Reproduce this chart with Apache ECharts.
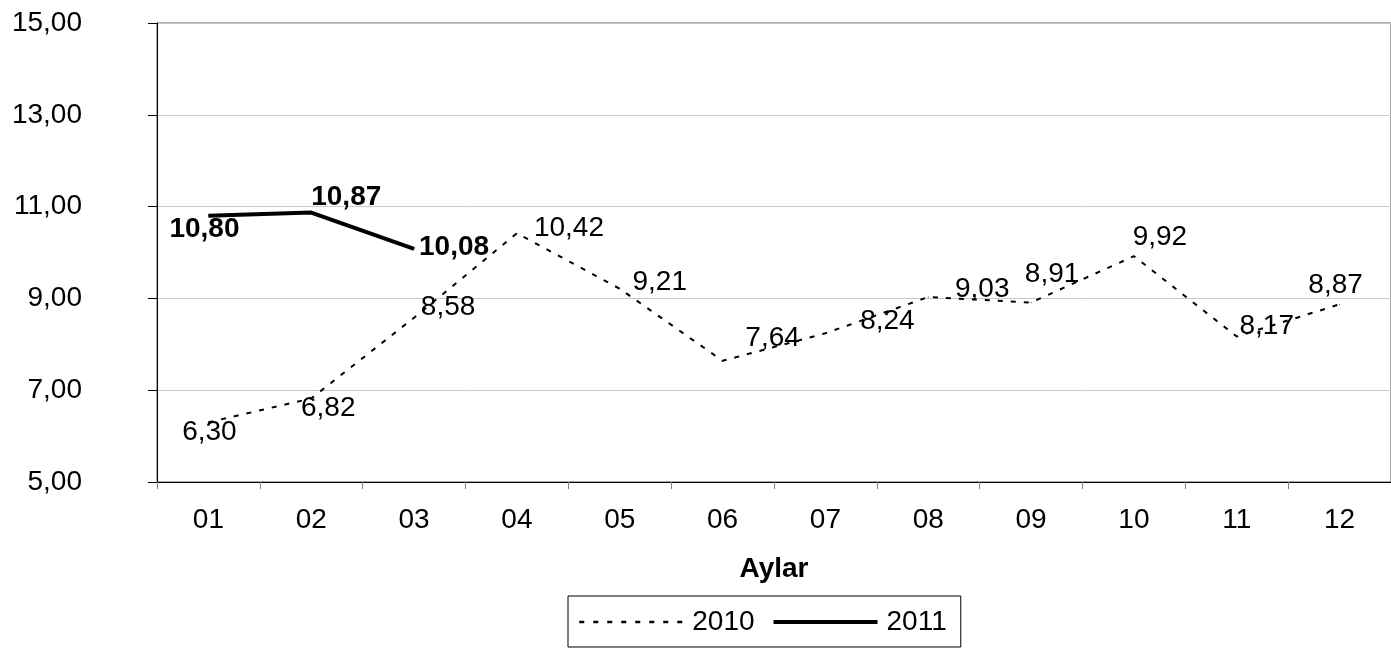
<!DOCTYPE html>
<html><head><meta charset="utf-8">
<script src="https://cdn.jsdelivr.net/npm/echarts@6/dist/echarts.min.js"></script>
<style>html,body{margin:0;padding:0;background:#fff}#c{width:1391px;height:648px}</style>
</head><body><div id="c"></div>
<script>
const months = ['01','02','03','04','05','06','07','08','09','10','11','12'];
const values2010 = [6.30, 6.82, 8.58, 10.42, 9.21, 7.64, 8.24, 9.03, 8.91, 9.92, 8.17, 8.87];
const values2011 = [10.80, 10.87, 10.08, null, null, null, null, null, null, null, null, null];
const yMin = 5, yMax = 15, yInterval = 2;
const seriesNames = ['2010', '2011'];
const axisName = 'Aylar';
// label placement (pixel offsets from each point)
const labelOffsets2010 = [[1,10],[17,10],[34,-10],[52,-5],[40,-6],[50,-23],[62,-12],[54,-8],[21,-28],[26,-19],[30,-10],[-4,-19]];
const labelOffsets2011 = [[-4,14],[35,-15],[40,-2]];

const FONT = '"Liberation Sans", Arial, sans-serif';
const FS = 28;
const fmt = v => Number(v).toFixed(2).replace('.', ',');
function build(vals, offs) {
  return vals.map((v, i) => v == null ? '-' : ({ value: v, label: { offset: offs[i] || [0,0] } }));
}
const chart = echarts.init(document.getElementById('c'), null, { renderer: 'canvas' });
chart.setOption({
  animation: false,
  backgroundColor: '#fff',
  textStyle: { fontFamily: FONT },
  grid: { left: 157, top: 23, width: 1238, height: 459, show: true, borderColor: '#555', borderWidth: 1, backgroundColor: 'transparent' },
  xAxis: {
    type: 'category', data: months, boundaryGap: true,
    axisLine: { lineStyle: { color: '#000', width: 1 } },
    axisTick: { show: true, length: 7, lineStyle: { color: '#808080' } },
    axisLabel: { color: '#000', fontSize: FS, fontFamily: FONT, margin: 24 },
    name: axisName, nameLocation: 'middle', nameGap: 73,
    nameTextStyle: { color: '#000', fontSize: FS, fontWeight: 'bold', fontFamily: FONT }
  },
  yAxis: {
    type: 'value', min: yMin, max: yMax, interval: yInterval,
    axisLine: { show: true, lineStyle: { color: '#000', width: 1 } },
    axisTick: { show: true, length: 9, lineStyle: { color: '#000' } },
    axisLabel: { color: '#000', fontSize: FS, fontFamily: FONT, margin: 75, formatter: fmt, padding: [0,0,6,0] },
    splitLine: { show: true, lineStyle: { color: '#c8c8c8', width: 1 } }
  },
  legend: {
    left: 568, top: 596, orient: 'horizontal',
    data: [
      { name: seriesNames[0], lineStyle: { width: 2.5, type: [5, 9] } },
      { name: seriesNames[1], lineStyle: { width: 4 } }
    ],
    itemWidth: 104, itemHeight: 14, itemGap: 17,
    padding: [12, 14, 11, 10],
    borderColor: '#000', borderWidth: 1,
    itemStyle: { opacity: 0 },
    textStyle: { color: '#000', fontSize: FS, fontFamily: FONT, padding: [0,0,0,4] }
  },
  series: [
    {
      name: seriesNames[0], type: 'line', data: build(values2010, labelOffsets2010),
      symbol: 'circle', symbolSize: 1, itemStyle: { color: '#000' },
      lineStyle: { color: '#000', width: 2, type: [5, 8] },
      label: { show: true, position: 'inside', align: 'center', verticalAlign: 'middle', color: '#000', fontSize: FS, fontFamily: FONT, formatter: p => fmt(p.value) },
      z: 3
    },
    {
      name: seriesNames[1], type: 'line', data: build(values2011, labelOffsets2011),
      symbol: 'circle', symbolSize: 1, itemStyle: { color: '#000' },
      lineStyle: { color: '#000', width: 4, type: 'solid' },
      label: { show: true, position: 'inside', align: 'center', verticalAlign: 'middle', color: '#000', fontSize: FS, fontWeight: 'bold', fontFamily: FONT, formatter: p => fmt(p.value) },
      z: 2
    }
  ]
});
</script></body></html>
